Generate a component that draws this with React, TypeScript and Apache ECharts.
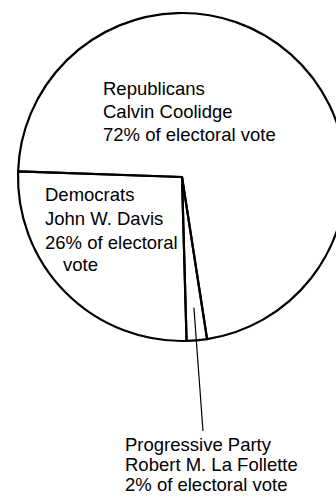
import React, { useEffect, useRef } from "react";
import * as echarts from "echarts";

const parties = ["Democrats", "Progressive Party", "Republicans"];
const candidates = ["John W. Davis", "Robert M. La Follette", "Calvin Coolidge"];
const shares = [26, 2, 72];

const CX = 182;
const CY = 177;
const R = 164;
const START = 178;

export default function App() {
  const ref = useRef<HTMLDivElement>(null);
  useEffect(() => {
    const chart = echarts.init(ref.current!, null, { renderer: "svg" });
    const total = shares.reduce((a, b) => a + b, 0);
    let acc = START;
    const mids = shares.map((v) => {
      const s = acc;
      acc += (v / total) * 360;
      return (s + acc) / 2;
    });
    const labelPos = [
      { x: 45, y: 182 },
      { x: 125, y: 434 },
      { x: 103, y: 77 },
    ];
    const texts = [
      `{t|${parties[0]}}\n{t|${candidates[0]}}\n{t|${shares[0]}% of electoral}\n{v|vote}`,
      `{p|${parties[1]}}\n{p|${candidates[1]}}\n{p|${shares[1]}% of electoral vote}`,
      `{r|${parties[2]}}\n{r|${candidates[2]}}\n{r|${shares[2]}% of electoral vote}`,
    ];
    const font = { fontFamily: "Liberation Sans", fontSize: 18.5, color: "#000" };
    const rich = {
      t: { ...font, lineHeight: 24 },
      v: { ...font, lineHeight: 20, padding: [0, 0, 0, 18] },
      p: { ...font, lineHeight: 20 },
      r: { ...font, lineHeight: 23 },
    };
    const data = shares.map((v, i) => ({
      name: parties[i],
      value: v,
      label: {
        show: true,
        position: i === 1 ? "outside" : "inside",
        formatter: texts[i],
        rich,
      },
      labelLine: { show: i === 1, lineStyle: { color: "#000", width: 1.2 } },
    }));
    chart.setOption({
      animation: false,
      backgroundColor: "#fff",
      series: [
        {
          type: "pie",
          center: [CX, CY],
          radius: [0, R],
          startAngle: START,
          clockwise: false,
          avoidLabelOverlap: false,
          emphasis: { disabled: true },
          itemStyle: { color: "rgba(255,255,255,0)", borderColor: "#000", borderWidth: 2.2 },
          data,
          labelLayout: (params: any) => {
            const i = params.dataIndex;
            const p = labelPos[i];
            const out: any = { x: p.x, y: p.y, align: "left", verticalAlign: "top" };
            if (i === 1) {
              const a = (mids[i] * Math.PI) / 180;
              const sx = CX + R * 0.8 * Math.cos(a);
              const sy = CY - R * 0.8 * Math.sin(a);
              const ex = p.x + 78;
              const ey = p.y - 3;
              out.labelLinePoints = [
                [sx, sy],
                [(sx + ex) / 2, (sy + ey) / 2],
                [ex, ey],
              ];
            }
            return out;
          },
        },
      ],
    });
    return () => chart.dispose();
  }, []);
  return (
    <div
      ref={ref}
      style={{ position: "absolute", left: 0, top: 0, width: 336, height: 498 }}
    />
  );
}
